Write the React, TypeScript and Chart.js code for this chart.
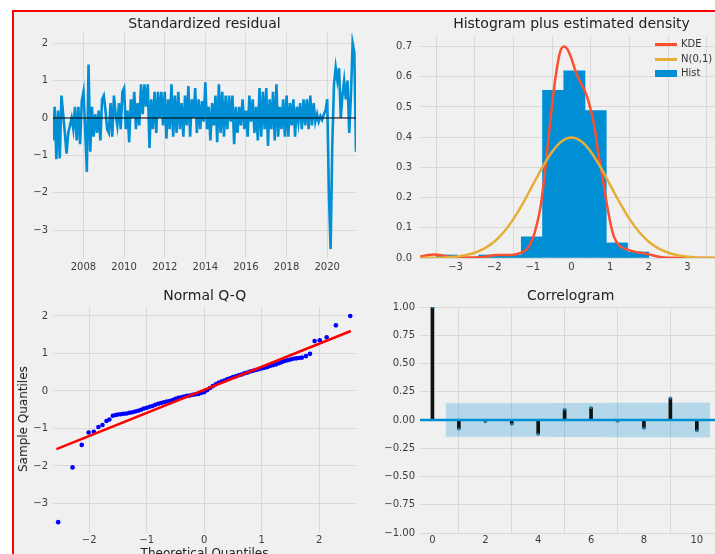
import React, { useEffect, useRef } from 'react';
import { Chart, registerables } from 'chart.js';

Chart.register(...registerables);

const FONT = "'DejaVu Sans', 'Liberation Sans', sans-serif";
const BLUE = '#008fd5';
const RED538 = '#fc4f30';
const YELLOW538 = '#e5ae38';
const GRID = '#d9d9d9';
const TICK_COLOR = '#3c3c3c';

// ---------------- Standardized residual (monthly, from Jul 2006) ----------------
const residStartYear = 2006.5;
const residValues = [
  -0.6, 0.3, -1.1, 0.2, -1.08, 0.6, 0.1, -0.4, -0.95, -0.4, -0.2, 0.0, -0.3, 0.3, -0.6, 0.3, -0.7, 0.45,
  0.7, -0.3, -1.44, 1.43, -0.9, 0.3, -0.5, 0.1, -0.4, 0.2, -0.6, 0.5,
  0.6, 0.2, -0.3, -0.4, 0.4, -0.5, 0.6, 0.1, -0.2, 0.4, -0.3, 0.7,
  0.8, -0.3, 0.2, -0.65, 0.5, 0.0, 0.7, -0.3, 0.4, -0.2, 0.9, 0.1,
  0.9, 0.3, 0.9, -0.8, 0.5, -0.3, 0.7, -0.4, 0.7, 0.0, 0.7, -0.2,
  0.7, -0.55, 0.5, -0.3, 0.9, -0.5, 0.6, -0.4, 0.7, -0.3, 0.4, -0.5,
  0.6, -0.2, 0.85, -0.5, 0.5, 0.0, 0.8, -0.4, 0.5, -0.3, 0.45, -0.1,
  0.95, -0.3, 0.3, -0.6, 0.4, -0.2, 0.6, -0.65, 0.9, -0.4, 0.7, -0.5,
  0.6, -0.3, 0.6, -0.1, 0.6, -0.7, 0.3, -0.4, 0.3, -0.2, 0.5, -0.3,
  0.2, -0.5, 0.6, -0.1, 0.5, -0.4, 0.3, -0.6, 0.8, -0.5, 0.7, -0.3,
  0.8, -0.75, 0.5, -0.3, 0.7, -0.6, 0.9, -0.5, 0.3, -0.3, 0.5, -0.5,
  0.6, -0.5, 0.4, -0.2, 0.5, -0.5, 0.3, -0.1, 0.4, -0.3, 0.5, -0.2,
  0.5, -0.3, 0.6, -0.2, 0.4, -0.1, 0.1, -0.1, 0.05, -0.05, 0.1, 0.2,
  0.5, -2.04, -3.5, -0.7, 0.9, 1.35, 1.0, 1.33, 0.0, 0.6, 1.0, 0.5, 1.0, -0.4, 0.6, 2.0, 1.75, -0.9,
];
const residXTicks = [2008, 2010, 2012, 2014, 2016, 2018, 2020];
const residYTicks = [-3, -2, -1, 0, 1, 2];

// ---------------- Histogram plus estimated density ----------------
const histBinCenters = [-3.225, -2.675, -2.125, -1.575, -1.025, -0.475, 0.075, 0.625, 1.175, 1.725];
const histDensity = [0.01, 0, 0.01, 0.01, 0.07, 0.555, 0.62, 0.488, 0.05, 0.02];
const kdeX = [-3.92, -3.75, -3.55, -3.35, -3.1, -2.8, -2.5, -2.2, -1.95, -1.7, -1.5, -1.3, -1.15, -1.0, -0.9, -0.8, -0.7, -0.6, -0.5, -0.4, -0.3, -0.2, -0.1, 0.0, 0.1, 0.2, 0.3, 0.4, 0.5, 0.6, 0.7, 0.8, 0.9, 1.0, 1.1, 1.25, 1.4, 1.6, 1.8, 2.0, 2.2, 2.4, 2.6, 3.0, 3.5, 3.92];
const kdeY = [0.004, 0.009, 0.012, 0.008, 0.003, 0.002, 0.002, 0.005, 0.01, 0.01, 0.011, 0.018, 0.03, 0.065, 0.11, 0.17, 0.27, 0.39, 0.51, 0.61, 0.68, 0.7, 0.69, 0.66, 0.62, 0.59, 0.565, 0.535, 0.49, 0.43, 0.34, 0.27, 0.19, 0.12, 0.07, 0.04, 0.03, 0.022, 0.017, 0.012, 0.006, 0.002, 0.0005, 0, 0, 0];
const normX = [-3.92, -3.75, -3.5, -3.25, -3, -2.75, -2.5, -2.25, -2, -1.75, -1.5, -1.25, -1, -0.75, -0.5, -0.25, 0, 0.25, 0.5, 0.75, 1, 1.25, 1.5, 1.75, 2, 2.25, 2.5, 2.75, 3, 3.25, 3.5, 3.75, 3.92];
const normY = [0.0002, 0.0004, 0.0009, 0.002, 0.0044, 0.0091, 0.0175, 0.0317, 0.054, 0.0863, 0.1295, 0.1826, 0.242, 0.3011, 0.3521, 0.3867, 0.3989, 0.3867, 0.3521, 0.3011, 0.242, 0.1826, 0.1295, 0.0863, 0.054, 0.0317, 0.0175, 0.0091, 0.0044, 0.002, 0.0009, 0.0004, 0.0002];
const histXTicks = [-3, -2, -1, 0, 1, 2, 3];
const histYTicks = [0, 0.1, 0.2, 0.3, 0.4, 0.5, 0.6, 0.7];

// ---------------- Normal Q-Q ----------------
const qqTheoretical = [-2.54, -2.29, -2.13, -2.01, -1.92, -1.84, -1.77, -1.70, -1.65, -1.59, -1.54, -1.50, -1.45, -1.40, -1.35, -1.30, -1.25, -1.20, -1.15, -1.10, -1.05, -1.00, -0.95, -0.90, -0.85, -0.80, -0.75, -0.70, -0.65, -0.60, -0.55, -0.50, -0.45, -0.40, -0.35, -0.30, -0.25, -0.20, -0.15, -0.10, -0.05, 0.00, 0.05, 0.10, 0.15, 0.20, 0.25, 0.30, 0.35, 0.40, 0.45, 0.50, 0.55, 0.60, 0.65, 0.70, 0.75, 0.80, 0.85, 0.90, 0.95, 1.00, 1.05, 1.10, 1.15, 1.20, 1.25, 1.30, 1.35, 1.40, 1.45, 1.50, 1.55, 1.60, 1.65, 1.70, 1.77, 1.84, 1.92, 2.01, 2.13, 2.29, 2.54];
const qqSample = [-3.50, -2.04, -1.44, -1.11, -1.09, -0.96, -0.91, -0.80, -0.76, -0.66, -0.64, -0.63, -0.62, -0.61, -0.60, -0.58, -0.57, -0.55, -0.53, -0.50, -0.47, -0.45, -0.42, -0.40, -0.37, -0.34, -0.32, -0.30, -0.28, -0.27, -0.24, -0.21, -0.18, -0.17, -0.15, -0.13, -0.12, -0.10, -0.09, -0.08, -0.05, -0.03, 0.02, 0.08, 0.13, 0.18, 0.22, 0.25, 0.28, 0.31, 0.34, 0.37, 0.39, 0.42, 0.44, 0.47, 0.49, 0.52, 0.54, 0.56, 0.58, 0.60, 0.62, 0.64, 0.67, 0.69, 0.71, 0.74, 0.77, 0.80, 0.82, 0.84, 0.86, 0.87, 0.88, 0.89, 0.93, 0.99, 1.33, 1.35, 1.43, 1.75, 2.00];
const qqLineX = [-2.57, 2.55];
const qqLineY = [-1.55, 1.6];
const qqXTicks = [-2, -1, 0, 1, 2];
const qqYTicks = [-3, -2, -1, 0, 1, 2];

// ---------------- Correlogram ----------------
const acfLags = [0, 1, 2, 3, 4, 5, 6, 7, 8, 9, 10];
const acfValues = [1.0, -0.08, -0.015, -0.038, -0.125, 0.095, 0.11, -0.012, -0.073, 0.195, -0.096];
const confX = [0.5, 2, 3, 4, 5, 6, 7, 8, 9, 10.5];
const confHalf = [0.148, 0.149, 0.149, 0.149, 0.15, 0.151, 0.152, 0.152, 0.152, 0.154];
const acfXTicks = [0, 2, 4, 6, 8, 10];
const acfYTicks = [-1, -0.75, -0.5, -0.25, 0, 0.25, 0.5, 0.75, 1];

// ---------------- helpers ----------------
const minus = (s: string) => s.replace('-', '\u2212');
const fmtInt = (v: number) => minus(String(Math.round(v)));
const fmt1 = (v: number) => minus(v.toFixed(1));
const fmt2 = (v: number) => minus(v.toFixed(2));

function linAxis(min: number, max: number, ticks: number[], fmt: (v: number) => string, size: number, isX: boolean, padding: number) {
  return {
    type: 'linear',
    min,
    max,
    bounds: 'data',
    afterBuildTicks: (scale: any) => {
      scale.ticks = ticks.map((v) => ({ value: v }));
    },
    afterFit: (scale: any) => {
      if (isX) scale.height = size;
      else scale.width = size;
    },
    grid: { color: GRID, lineWidth: 1, drawTicks: false },
    border: { display: false },
    ticks: {
      autoSkip: false,
      maxRotation: 0,
      padding,
      color: TICK_COLOR,
      font: { family: FONT, size: 10 },
      callback: (v: any) => fmt(Number(v)),
    },
  };
}

function baseOptions(scales: any, padTop: number, padRight: number) {
  return {
    responsive: false,
    maintainAspectRatio: false,
    animation: false,
    events: [],
    layout: { padding: { top: padTop, right: padRight, left: 0, bottom: 0 } },
    plugins: { legend: { display: false }, tooltip: { enabled: false }, title: { display: false } },
    scales,
  };
}

const pts = (xs: number[], ys: number[]) => {
  const n = Math.min(xs.length, ys.length);
  const out: { x: number; y: number }[] = [];
  for (let i = 0; i < n; i++) out.push({ x: xs[i], y: ys[i] });
  return out;
};

// ---------------- configs ----------------
function residConfig(): any {
  const xs = residValues.map((_, i) => residStartYear + i / 12);
  const last = xs[xs.length - 1];
  return {
    type: 'scatter',
    data: {
      datasets: [
        { type: 'line', data: pts([residStartYear, last], [0, 0]), borderColor: 'rgba(0,0,0,0.5)', borderWidth: 2, pointRadius: 0, order: 0 },
        { type: 'line', data: pts(xs, residValues), borderColor: BLUE, borderWidth: 2.6, pointRadius: 0, tension: 0, order: 1 },
      ],
    },
    options: baseOptions(
      {
        x: linAxis(residStartYear, last, residXTicks, fmtInt, 22, true, 3),
        y: linAxis(-3.74, 2.27, residYTicks, fmtInt, 39, false, 5),
      },
      10,
      9
    ),
  };
}

function histConfig(): any {
  return {
    type: 'scatter',
    data: {
      datasets: [
        { type: 'line', data: pts(normX, normY), borderColor: YELLOW538, borderWidth: 2.5, pointRadius: 0, tension: 0.4, cubicInterpolationMode: 'monotone', order: 0 },
        { type: 'line', data: pts(kdeX, kdeY), borderColor: RED538, borderWidth: 2.5, pointRadius: 0, tension: 0.4, cubicInterpolationMode: 'monotone', order: 1 },
        { type: 'bar', data: pts(histBinCenters, histDensity), backgroundColor: BLUE, borderWidth: 0, barPercentage: 1, categoryPercentage: 1, grouped: false, order: 2 },
      ],
    },
    options: baseOptions(
      {
        x: { ...linAxis(-3.92, 3.92, histXTicks, fmtInt, 22, true, 3), offset: false },
        y: linAxis(0, 0.735, histYTicks, fmt1, 50, false, 8),
      },
      10,
      10
    ),
  };
}

function qqConfig(): any {
  return {
    type: 'scatter',
    data: {
      datasets: [
        { type: 'line', data: pts(qqLineX, qqLineY), borderColor: '#ff0000', borderWidth: 2.5, pointRadius: 0, order: 0 },
        { type: 'scatter', data: pts(qqTheoretical, qqSample), backgroundColor: '#0000ff', pointBackgroundColor: '#0000ff', pointBorderWidth: 0, borderWidth: 0, pointRadius: 2.3, order: 1 },
      ],
    },
    options: baseOptions(
      {
        x: linAxis(-2.63, 2.64, qqXTicks, fmtInt, 21, true, 1),
        y: linAxis(-3.79, 2.24, qqYTicks, fmtInt, 39, false, 5),
      },
      10,
      9
    ),
  };
}

function acfConfig(): any {
  const upper = confHalf.map((v) => v);
  const lower = confHalf.map((v) => -v);
  return {
    type: 'scatter',
    data: {
      datasets: [
        { type: 'scatter', data: pts(acfLags, acfValues), pointBackgroundColor: '#1f7fae', backgroundColor: '#1f7fae', pointBorderWidth: 0, pointRadius: 1.5, order: 0 },
        { type: 'line', data: pts([-0.47, 10.99], [0, 0]), borderColor: BLUE, borderWidth: 2.5, pointRadius: 0, order: 1 },
        { type: 'bar', data: pts(acfLags, acfValues), backgroundColor: '#111111', borderWidth: 0, barThickness: 3, grouped: false, order: 2 },
        { type: 'line', data: pts(confX, upper), borderColor: 'rgba(0,0,0,0)', borderWidth: 0, pointRadius: 0, fill: '+1', backgroundColor: 'rgba(0,143,213,0.25)', order: 3 },
        { type: 'line', data: pts(confX, lower), borderColor: 'rgba(0,0,0,0)', borderWidth: 0, pointRadius: 0, fill: false, order: 4 },
      ],
    },
    options: baseOptions(
      {
        x: { ...linAxis(-0.47, 10.99, acfXTicks, fmtInt, 21, true, 1), offset: false },
        y: linAxis(-1, 1, acfYTicks, fmt2, 50, false, 5),
      },
      10,
      10
    ),
  };
}

function ChartPanel({ left, top, width, height, make }: { left: number; top: number; width: number; height: number; make: () => any }) {
  const ref = useRef<HTMLCanvasElement>(null);
  useEffect(() => {
    if (!ref.current) return;
    const chart = new Chart(ref.current, make());
    return () => chart.destroy();
  }, []);
  return <canvas ref={ref} width={width} height={height} style={{ position: 'absolute', left, top, width, height }} />;
}

const titleStyle = (cx: number, cy: number): React.CSSProperties => ({
  position: 'absolute',
  left: cx - 200,
  top: cy - 9,
  width: 400,
  textAlign: 'center',
  lineHeight: '18px',
  fontSize: 14,
  fontFamily: FONT,
  color: '#222',
  whiteSpace: 'nowrap',
});

const legendText: React.CSSProperties = {
  position: 'absolute',
  left: 681,
  fontSize: 10,
  lineHeight: '12px',
  fontFamily: FONT,
  color: '#333',
  whiteSpace: 'nowrap',
};

export default function App() {
  return (
    <div style={{ position: 'absolute', left: 0, top: 0, width: 715, height: 554, overflow: 'hidden', background: '#ffffff' }}>
      <div
        style={{
          position: 'absolute',
          left: 12,
          top: 10,
          width: 720,
          height: 560,
          borderLeft: '2px solid #ff0000',
          borderTop: '2px solid #ff0000',
          background: '#f0f0f0',
        }}
      />
      <ChartPanel left={14} top={22} width={351} height={258} make={residConfig} />
      <ChartPanel left={370} top={22} width={363} height={258} make={histConfig} />
      <ChartPanel left={14} top={296} width={351} height={258} make={qqConfig} />
      <ChartPanel left={370} top={296} width={363} height={258} make={acfConfig} />

      <div style={titleStyle(204.5, 22.5)}>Standardized residual</div>
      <div style={titleStyle(571.5, 22.5)}>Histogram plus estimated density</div>
      <div style={titleStyle(204.8, 295)}>Normal Q-Q</div>
      <div style={titleStyle(570.7, 295)}>Correlogram</div>

      {/* legend of the histogram panel */}
      <div style={{ position: 'absolute', left: 655, top: 42.5, width: 22, height: 3, background: RED538 }} />
      <div style={{ ...legendText, top: 38 }}>KDE</div>
      <div style={{ position: 'absolute', left: 655, top: 58, width: 22, height: 2.5, background: YELLOW538 }} />
      <div style={{ ...legendText, top: 53 }}>N(0,1)</div>
      <div style={{ position: 'absolute', left: 655, top: 69.5, width: 22, height: 7, background: BLUE }} />
      <div style={{ ...legendText, top: 67 }}>Hist</div>

      {/* axis labels of the Q-Q panel */}
      <div
        style={{
          position: 'absolute',
          left: 23,
          top: 419,
          transform: 'translate(-50%, -50%) rotate(-90deg)',
          fontSize: 12,
          lineHeight: '14px',
          fontFamily: FONT,
          color: '#222',
          whiteSpace: 'nowrap',
        }}
      >
        Sample Quantiles
      </div>
      <div
        style={{
          position: 'absolute',
          left: 204.5 - 100,
          width: 200,
          top: 546,
          textAlign: 'center',
          fontSize: 12,
          lineHeight: '14px',
          fontFamily: FONT,
          color: '#222',
          whiteSpace: 'nowrap',
        }}
      >
        Theoretical Quantiles
      </div>
    </div>
  );
}
